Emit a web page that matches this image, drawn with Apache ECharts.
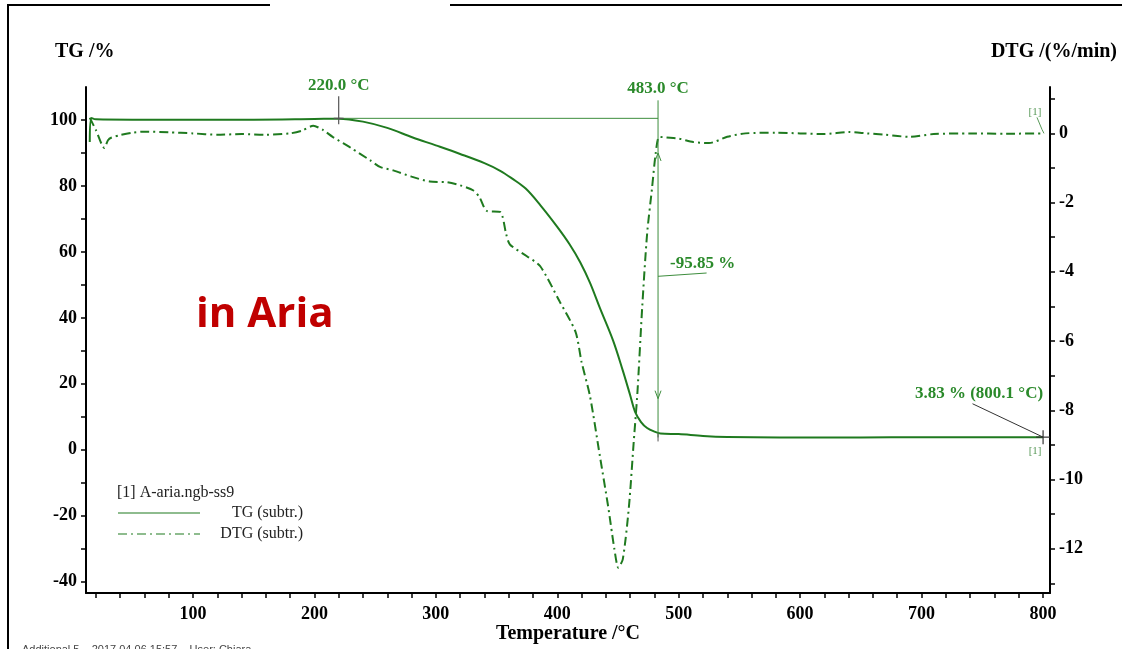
<!DOCTYPE html>
<html>
<head>
<meta charset="utf-8">
<script src="https://cdn.jsdelivr.net/npm/echarts@6/dist/echarts.min.js"></script>
<style>
html,body{margin:0;padding:0;background:#fff;}
#c{width:1122px;height:649px;}
</style>
</head>
<body>
<div id="c"></div>
<script>
// ---- data ----
const tempTicks = [20,40,60,80,100,120,140,160,180,200,220,240,260,280,300,320,340,360,380,400,420,440,460,480,500,520,540,560,580,600,620,640,660,680,700,720,740,760,780,800];
const tempLabels = [100,200,300,400,500,600,700,800];
const tgLabels = [-40,-20,0,20,40,60,80,100];
const tgTicks = [-40,-30,-20,-10,0,10,20,30,40,50,60,70,80,90,100];
const dtgLabels = [-12,-10,-8,-6,-4,-2,0];
const dtgTicks = [-13,-12,-11,-10,-9,-8,-7,-6,-5,-4,-3,-2,-1,0,1];

const tgTemp = [15,16.5,20,50,100,150,200,220,240,260,281,300,320,340,353,363,374,386,400,410,419,427,435,446,454,460,464,469,474,480,485,500,520,540,583,650,700,750,800];
const tgValue = [93.3,100.6,100.2,100.1,100.1,100.1,100.3,100.4,99.5,97.6,94.7,92.3,89.7,86.9,84.6,82.2,79.2,74.2,67.6,62.4,56.8,50.6,43.1,33.1,24.0,16.6,11.6,8.4,6.6,5.5,4.95,4.75,4.2,3.9,3.75,3.75,3.78,3.8,3.83];

const dtgTemp = [15,20,27,30,33,40,50,60,80,100,120,140,160,180,190,199,207,215,230,246,254,265,280,295,309,320,331,336,342,353,358,361,375,386,402,415,420,427,435,442,447,450.3,454,459,463,466,470,474,478,481,484,490,500,512,525,540,555,580,600,620,640,655,670,690,710,740,770,800];
const dtgValue = [0.45,0.1,-0.42,-0.2,-0.12,-0.05,0.02,0.05,0.03,0.0,-0.04,-0.02,-0.04,0.0,0.08,0.22,0.1,-0.1,-0.42,-0.78,-0.97,-1.07,-1.25,-1.39,-1.41,-1.5,-1.65,-1.85,-2.24,-2.27,-2.92,-3.21,-3.55,-3.84,-4.86,-5.73,-6.6,-7.6,-9.3,-10.8,-12.0,-12.55,-12.3,-10.8,-8.9,-7.5,-5.0,-2.9,-1.6,-0.6,-0.1,-0.12,-0.15,-0.25,-0.28,-0.1,0.0,0.02,0.0,-0.02,0.04,0.0,-0.04,-0.1,-0.02,0.0,-0.01,0.0];

// annotation values
const onsetT = 220.0, endT = 483.0, stepLevel = 100.5;
const massLoss = -95.85, residueT = 800.1, residue = 3.83;

const GREEN = '#1f7a1f';
const AGREEN = '#2b8a2b';
const SERIF = '"Liberation Serif","Times New Roman",serif';

const chart = echarts.init(document.getElementById('c'), null, {renderer:'canvas'});

const axisFont = {fontFamily: SERIF, fontWeight: 'bold', fontSize: 18, color: '#000'};

chart.setOption({
  animation: false,
  backgroundColor: '#fff',
  grid: {left: 86, right: 72, top: 87, bottom: 56, containLabel: false},
  xAxis: {
    type: 'value', min: 11.9, max: 805.8,
    axisLine: {show: true, onZero: false, lineStyle: {color: '#000', width: 2}},
    axisTick: {show: true, length: 5, lineStyle: {color: '#000', width: 1.5}, customValues: tempTicks},
    axisLabel: Object.assign({margin: 12, customValues: tempLabels}, axisFont),
    splitLine: {show: false}
  },
  yAxis: [
    {
      type: 'value', position: 'left', min: -43.43, max: 110,
      axisLine: {show: true, onZero: false, lineStyle: {color: '#000', width: 2}},
      axisTick: {show: true, length: 5, lineStyle: {color: '#000', width: 1.5}, customValues: tgTicks},
      axisLabel: Object.assign({margin: 9, customValues: tgLabels}, axisFont),
      splitLine: {show: false}
    },
    {
      type: 'value', position: 'right', min: -13.28, max: 1.34,
      axisLine: {show: true, onZero: false, lineStyle: {color: '#000', width: 2}},
      axisTick: {show: true, length: 5, lineStyle: {color: '#000', width: 1.5}, customValues: dtgTicks},
      axisLabel: Object.assign({margin: 9, customValues: dtgLabels}, axisFont),
      splitLine: {show: false}
    }
  ],
  series: [
    {
      name: 'TG (subtr.)', type: 'line', yAxisIndex: 0, showSymbol: false, smooth: 0.35,
      data: tgTemp.map((t, i) => [t, tgValue[i]]),
      lineStyle: {color: GREEN, width: 2}, itemStyle: {color: GREEN}, z: 3
    },
    {
      name: 'DTG (subtr.)', type: 'line', yAxisIndex: 1, showSymbol: false, smooth: 0.25,
      data: dtgTemp.map((t, i) => [t, dtgValue[i]]),
      lineStyle: {color: GREEN, width: 2, type: [9, 4, 2, 4]}, itemStyle: {color: GREEN}, z: 3
    }
  ]
});

function P(t, v, ax) { return chart.convertToPixel({xAxisIndex: 0, yAxisIndex: ax || 0}, [t, v]); }
function L(a, b, style) {
  return {type: 'line', shape: {x1: a[0], y1: a[1], x2: b[0], y2: b[1]}, style: Object.assign({stroke: '#3d8d3d', lineWidth: 1}, style || {}), z: 10};
}
function T(text, x, y, st) {
  return {type: 'text', x: x, y: y, style: Object.assign({text: text, fill: AGREEN, font: 'bold 17px ' + SERIF, align: 'center', verticalAlign: 'middle'}, st || {}), z: 11};
}

const g = [];
// outer frame pieces of the screenshot
g.push({type: 'polyline', shape: {points: [[8, 649], [8, 5], [270, 5]]}, style: {stroke: '#000', lineWidth: 2, fill: null}});
g.push({type: 'line', shape: {x1: 450, y1: 5, x2: 1122, y2: 5}, style: {stroke: '#000', lineWidth: 2}});

// axis titles
g.push({type: 'text', x: 55, y: 52, style: {text: 'TG /%', font: 'bold 20px ' + SERIF, fill: '#000', align: 'left', verticalAlign: 'middle'}});
g.push({type: 'text', x: 1117, y: 52, style: {text: 'DTG /(%/min)', font: 'bold 20px ' + SERIF, fill: '#000', align: 'right', verticalAlign: 'middle'}});
g.push({type: 'text', x: 568, y: 634, style: {text: 'Temperature /\u00B0C', font: 'bold 20px ' + SERIF, fill: '#000', align: 'center', verticalAlign: 'middle'}});

// footer
g.push({type: 'text', x: 22, y: 650, style: {text: 'Additional 5    2017.04.06 15:57    User: Chiara', font: '11px "Liberation Sans", Arial, sans-serif', fill: '#444', align: 'left', verticalAlign: 'middle'}});

// red overlay text
g.push({type: 'text', x: 196, y: 315, style: {text: 'in Aria', font: 'bold 42px "Open Sans", "Noto Sans", sans-serif', fill: '#c00000', align: 'left', verticalAlign: 'middle'}});

// onset annotation
const pOn = P(onsetT, stepLevel), pEnd = P(endT, stepLevel);
g.push(L(pOn, pEnd));
g.push(L([pOn[0], pOn[1] - 22], [pOn[0], pOn[1] + 6], {stroke: '#555', lineWidth: 1.2}));
g.push(L([pOn[0] - 5, pOn[1]], [pOn[0] + 5, pOn[1]], {stroke: '#555', lineWidth: 1.2}));
g.push(T(onsetT.toFixed(1) + ' \u00B0C', pOn[0], pOn[1] - 33));

// end annotation
const tgEnd = 4.95;
const pBot = P(endT, tgEnd);
g.push(L([pEnd[0], pEnd[1] - 18], [pBot[0], pBot[1] + 4]));
g.push(T(endT.toFixed(1) + ' \u00B0C', pEnd[0], pEnd[1] - 30));
// step arrow heads
const pUp = P(endT, 90), pDn = P(endT, 15.5);
g.push({type: 'polyline', shape: {points: [[pUp[0] - 3, pUp[1] + 8], [pUp[0], pUp[1]], [pUp[0] + 3, pUp[1] + 8]]}, style: {stroke: '#3d8d3d', lineWidth: 1, fill: null}, z: 10});
g.push({type: 'polyline', shape: {points: [[pDn[0] - 3, pDn[1] - 8], [pDn[0], pDn[1]], [pDn[0] + 3, pDn[1] - 8]]}, style: {stroke: '#3d8d3d', lineWidth: 1, fill: null}, z: 10});
// tick at step bottom
g.push(L([pBot[0], pBot[1]], [pBot[0], pBot[1] + 8], {stroke: '#555'}));
// mass loss label
const pML = P(endT, 52.6), pML2 = P(523, 53.6);
g.push(L(pML, pML2));
g.push(T(massLoss.toFixed(2) + ' %', pML[0] + 12, pML[1] - 13, {align: 'left'}));

// residue annotation
const pRes = P(residueT, residue);
const pResTxt = P(742, 13.95);
g.push(L(pResTxt, pRes, {stroke: '#333'}));
g.push(L([pRes[0] - 7, pRes[1]], [pRes[0] + 7, pRes[1]], {stroke: '#333', lineWidth: 1.2}));
g.push(L([pRes[0], pRes[1] - 7], [pRes[0], pRes[1] + 7], {stroke: '#333', lineWidth: 1.2}));
g.push(T(residue.toFixed(2) + ' % (' + residueT.toFixed(1) + ' \u00B0C)', pRes[0], pResTxt[1] - 10, {align: 'right'}));
g.push(T('[1]', pRes[0] - 8, pRes[1] + 14, {font: '11px ' + SERIF, fill: '#5a9a5a'}));

// DTG end label
const pD = P(800, 0, 1);
g.push({type: 'polyline', shape: {points: [[pD[0] - 6, pD[1] - 16], [pD[0] - 1, pD[1] - 4], [pD[0] + 1, pD[1]]]}, style: {stroke: '#5a9a5a', lineWidth: 1, fill: null}, z: 10});
g.push(T('[1]', pD[0] - 8, pD[1] - 21, {font: '11px ' + SERIF, fill: '#5a9a5a'}));

// legend
g.push({type: 'text', x: 117, y: 493, style: {text: '[1] A-aria.ngb-ss9', font: '16px ' + SERIF, fill: '#222', align: 'left', verticalAlign: 'middle'}});
g.push({type: 'line', shape: {x1: 118, y1: 513, x2: 200, y2: 513}, style: {stroke: GREEN, lineWidth: 1.2}});
g.push({type: 'line', shape: {x1: 118, y1: 534, x2: 200, y2: 534}, style: {stroke: GREEN, lineWidth: 1.2, lineDash: [9, 4, 2, 4]}});
g.push({type: 'text', x: 303, y: 513, style: {text: 'TG (subtr.)', font: '16px ' + SERIF, fill: '#222', align: 'right', verticalAlign: 'middle'}});
g.push({type: 'text', x: 303, y: 534, style: {text: 'DTG (subtr.)', font: '16px ' + SERIF, fill: '#222', align: 'right', verticalAlign: 'middle'}});

chart.setOption({graphic: {elements: g}});
</script>
</body>
</html>
